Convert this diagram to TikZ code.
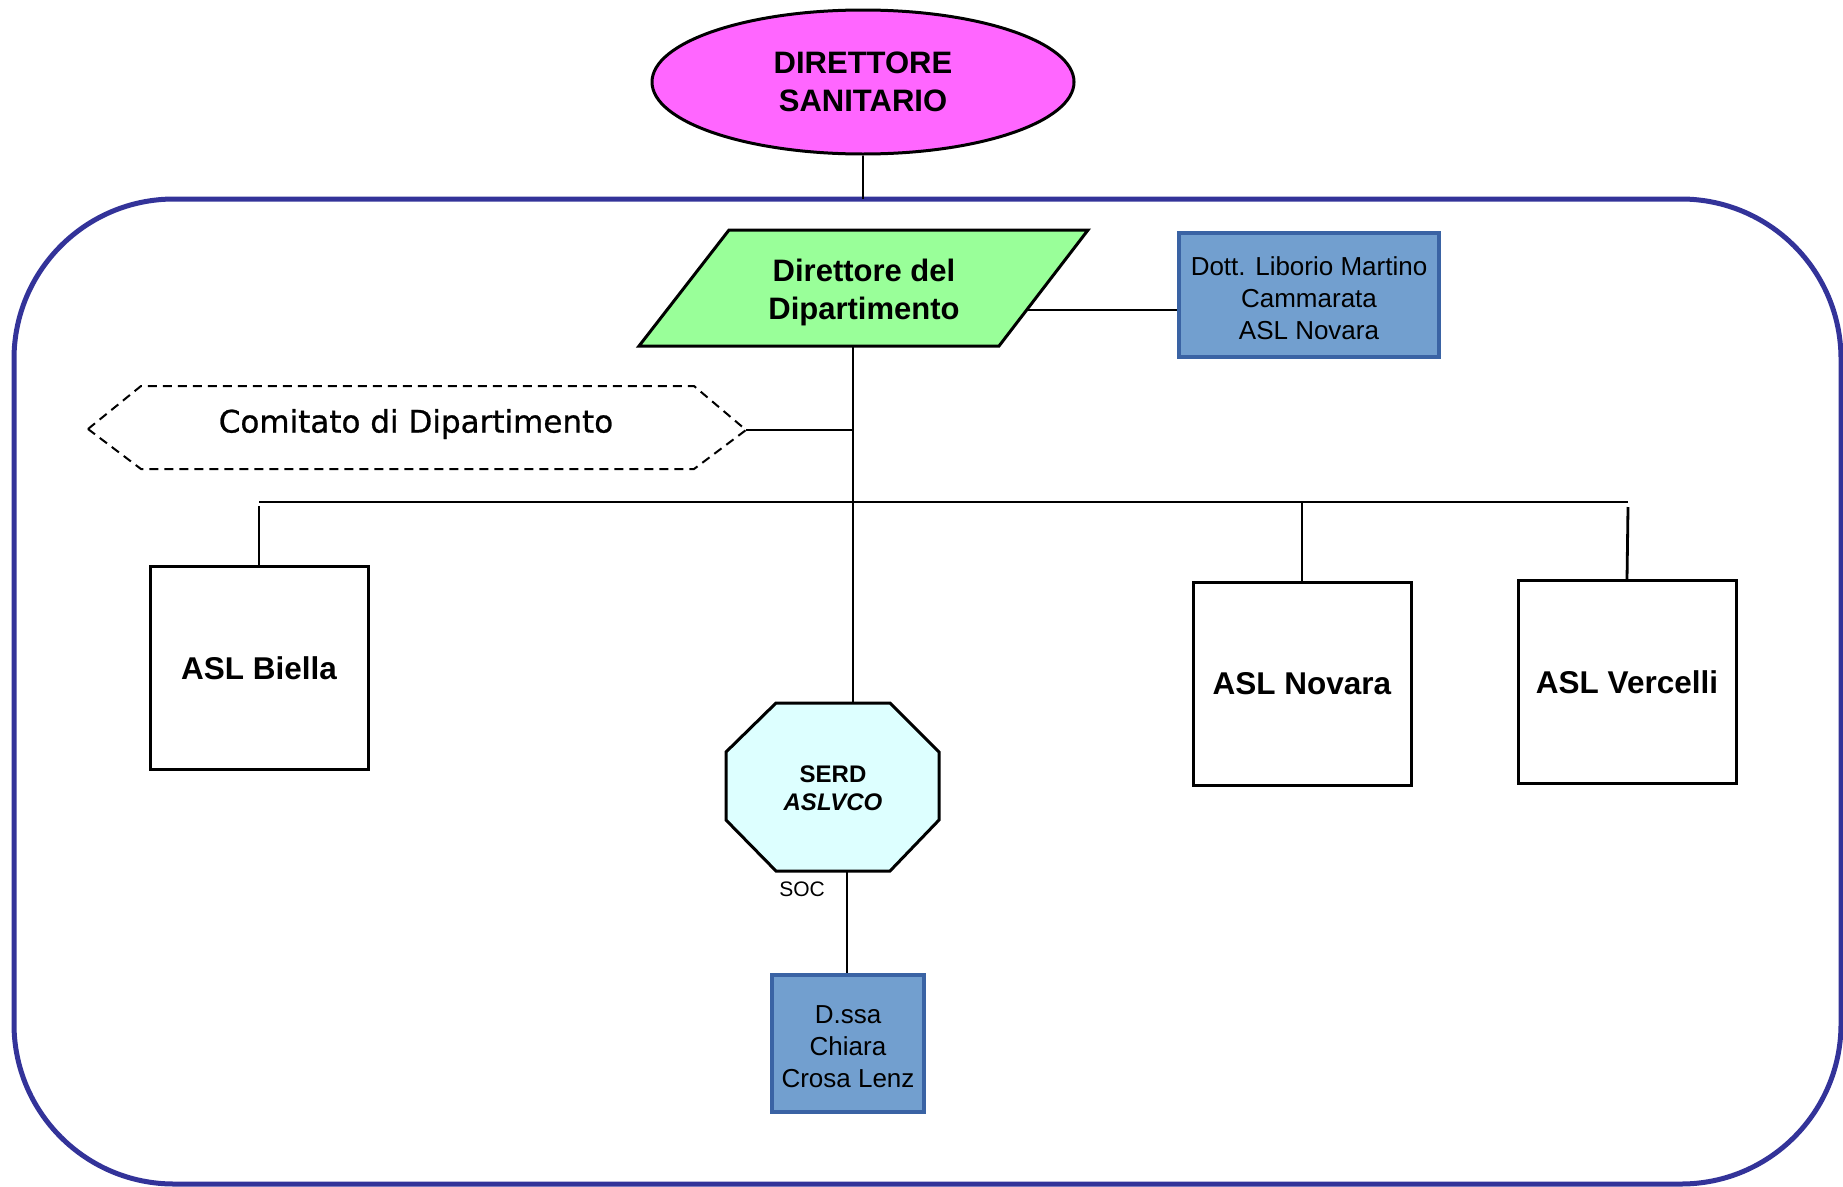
\documentclass[tikz,border=0pt]{standalone}
\usepackage{fontspec}
\setmainfont{Liberation Sans}
\newfontfamily\lucidaf[FakeBold=0.8]{DejaVu Sans}
\usetikzlibrary{shapes.geometric}
\definecolor{frameblue}{HTML}{333399}
\definecolor{pinkfill}{HTML}{FF66FF}
\definecolor{greenfill}{HTML}{99FF99}
\definecolor{bluefill}{HTML}{729FCF}
\definecolor{blueedge}{HTML}{3A63A4}
\definecolor{cyanfill}{HTML}{DDFFFF}
\begin{document}
\begin{tikzpicture}[x=1pt,y=-1pt,
  conn/.style={line width=2.8pt},
  shapeline/.style={line width=3pt},
  bigtxt/.style={font=\fontsize{31}{38}\selectfont\bfseries, align=center, inner sep=0pt},
  personbox/.style={draw=blueedge, fill=bluefill, line width=4pt, inner sep=0pt},
  persontxt/.style={font=\fontsize{26}{32}\selectfont, align=center, inner sep=0pt},
  aslbox/.style={draw, line width=3pt, inner sep=0pt, minimum width=218pt, minimum height=203pt,
     font=\fontsize{31.5}{38}\selectfont\bfseries}
]
\useasboundingbox (0,0) rectangle (1843,1186);

% outer frame
\draw[frameblue, line width=5pt, rounded corners=160pt] (14,199) rectangle (1841,1184);

% Direttore Sanitario
\node[ellipse, draw, fill=pinkfill, line width=3pt, minimum width=422pt, minimum height=144pt,
      inner sep=0pt] (ds) at (863,82) {};
\node[bigtxt] (dstxt) at (863,82) {DIRETTORE\\SANITARIO};
\coordinate (frametop) at (863,199);
\draw[conn] (ds.south) -- (frametop);

% Direttore del Dipartimento (parallelogram)
\coordinate (pTL) at (729,230);
\coordinate (pTR) at (1088,230);
\coordinate (pBR) at (999,346);
\coordinate (pBL) at (639,346);
\draw[shapeline, fill=greenfill] (pTL) -- (pTR) -- (pBR) -- (pBL) -- cycle;
\node[bigtxt] (dd) at (864,292) {Direttore del\\Dipartimento};
\coordinate (pR) at (1027,310);
\coordinate (pB) at (853,346);

% Dott. box
\node[personbox, minimum width=260pt, minimum height=124pt] (dott) at (1309,295) {};
\node[persontxt] (dotttxt) at (1309,298) {Dott. Liborio Martino\\Cammarata\\ASL Novara};
\draw[conn] (pR) -- (pR -| dott.west);

% Comitato hexagon
\coordinate (hL) at (88,429);
\coordinate (hTL) at (141,386);
\coordinate (hTR) at (694,386);
\coordinate (hR) at (746,430);
\coordinate (hBR) at (694,469);
\coordinate (hBL) at (141,469);
\draw[line width=2pt, dash pattern=on 9pt off 6pt] (hL) -- (hTL) -- (hTR) -- (hR) -- (hBR) -- (hBL) -- cycle;
\node[font=\lucidaf\fontsize{31}{38}\selectfont, inner sep=0pt] (com) at (416,424) {Comitato di Dipartimento};

% main trunk and bus
\coordinate (trunkC) at (853,430);
\coordinate (busC) at (853,502);
\coordinate (busL) at (259,502);
\coordinate (busR) at (1628,502);

% ASL boxes
\node[aslbox] (biella) at (259,668) {ASL Biella};
\node[aslbox] (novara) at (1302,684) {ASL Novara};
\node[aslbox] (vercelli) at (1627,682) {ASL Vercelli};

% SERD octagon
\coordinate (o1) at (776,703);
\coordinate (o2) at (890,703);
\coordinate (o3) at (939,752);
\coordinate (o4) at (939,820);
\coordinate (o5) at (890,871);
\coordinate (o6) at (776,871);
\coordinate (o7) at (726,820);
\coordinate (o8) at (726,752);
\draw[shapeline, fill=cyanfill] (o1) -- (o2) -- (o3) -- (o4) -- (o5) -- (o6) -- (o7) -- (o8) -- cycle;
\node[font=\fontsize{24}{28}\selectfont\bfseries, align=center, inner sep=0pt] (serd) at (833,788)
  {SERD\\\textit{ASLVCO}};
\coordinate (serdtop) at (853,703);
\coordinate (serdbot) at (847,871);
\node[font=\fontsize{21}{25}\selectfont, inner sep=0pt] (soc) at (802,889) {SOC};

% D.ssa box
\node[personbox, minimum width=152pt, minimum height=137pt] (dssa) at (848,1043) {};
\node[persontxt] (dssatxt) at (848,1047) {D.ssa\\Chiara\\Crosa Lenz};

% connectors
\draw[conn] (pB) -- (serdtop);
\draw[conn] (hR) -- (trunkC);
\draw[conn] (busL) -- (busR);
\draw[conn] ([yshift=-4pt]busL) -- (biella.north);
\draw[conn] (busL -| novara.north) -- (novara.north);
\draw[conn] ([yshift=-5pt]busR) -- (vercelli.north);
\draw[conn] (serdbot) -- (serdbot |- dssa.north);
\end{tikzpicture}
\end{document}
